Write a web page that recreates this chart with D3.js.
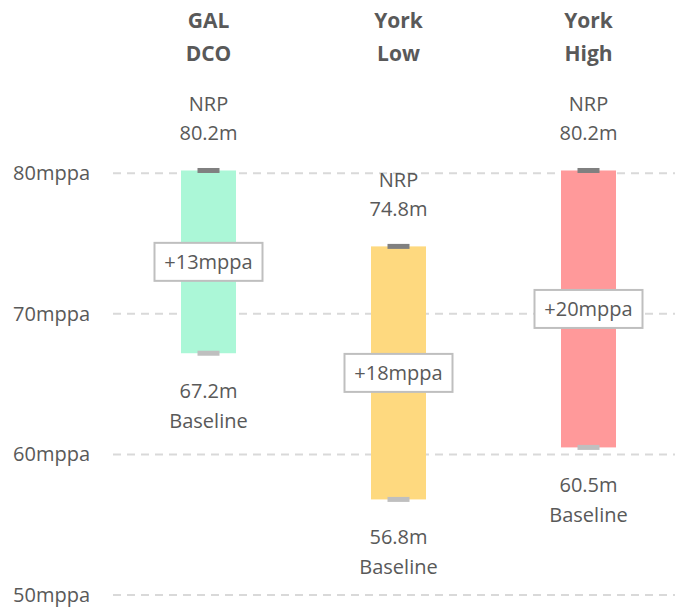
<!DOCTYPE html>
<html>
<head>
<meta charset="utf-8">
<script src="https://cdn.jsdelivr.net/npm/d3@7"></script>
<style>
  html, body { margin: 0; padding: 0; background: #fff; }
  svg { display: block; font-family: "Open Sans", "DejaVu Sans", sans-serif; }
</style>
</head>
<body>
<svg id="chart" width="675" height="610"></svg>
<script>
// ---- data ----
const categories = ["GAL DCO", "York Low", "York High"];
const titleLines = [["GAL", "DCO"], ["York", "Low"], ["York", "High"]];
const baselineValues = [67.2, 56.8, 60.5];
const nrpValues = [80.2, 74.8, 80.2];
const changeLabels = ["+13mppa", "+18mppa", "+20mppa"];
const barColors = ["#abf7d7", "#fed97f", "#ff999a"];
const yTicks = [50, 60, 70, 80];
const yTickLabels = ["50mppa", "60mppa", "70mppa", "80mppa"];

// ---- layout ----
const svg = d3.select("#chart");
const textColor = "#595959";

const y = d3.scaleLinear().domain([50, 80]).range([595, 173.3]);
const x = d3.scalePoint().domain(categories).range([208.5, 588.5]);
const barW = 55;

// gridlines
svg.append("g").selectAll("line")
  .data(yTicks)
  .join("line")
  .attr("x1", 113).attr("x2", 675)
  .attr("y1", d => y(d)).attr("y2", d => y(d))
  .attr("stroke", "#d9d9d9")
  .attr("stroke-width", 2)
  .attr("stroke-dasharray", "8,6");

// y labels
svg.append("g").selectAll("text")
  .data(yTicks)
  .join("text")
  .attr("x", 90)
  .attr("y", d => y(d))
  .attr("dy", "0.35em")
  .attr("text-anchor", "end")
  .attr("font-size", 20)
  .attr("fill", textColor)
  .text((d, i) => yTickLabels[i]);

const rows = categories.map((c, i) => ({
  cat: c, lines: titleLines[i], base: baselineValues[i], nrp: nrpValues[i],
  label: changeLabels[i], color: barColors[i]
}));

// bars
svg.append("g").selectAll("rect")
  .data(rows)
  .join("rect")
  .attr("x", d => x(d.cat) - barW / 2)
  .attr("width", barW)
  .attr("y", d => y(d.nrp))
  .attr("height", d => y(d.base) - y(d.nrp))
  .attr("fill", d => d.color);

// caps
const capW = 22, capH = 5;
svg.append("g").selectAll("rect")
  .data(rows)
  .join("rect")
  .attr("x", d => x(d.cat) - capW / 2)
  .attr("width", capW)
  .attr("y", d => y(d.nrp) - capH / 2)
  .attr("height", capH)
  .attr("fill", "#808080");
svg.append("g").selectAll("rect")
  .data(rows)
  .join("rect")
  .attr("x", d => x(d.cat) - capW / 2)
  .attr("width", capW)
  .attr("y", d => y(d.base) - capH / 2)
  .attr("height", capH)
  .attr("fill", "#bfbfbf");

// titles
const titles = svg.append("g").selectAll("g").data(rows).join("g");
titles.each(function(d) {
  d3.select(this).selectAll("text")
    .data(d.lines)
    .join("text")
    .attr("x", x(d.cat))
    .attr("y", (t, j) => 21 + j * 33)
    .attr("dy", "0.35em")
    .attr("text-anchor", "middle")
    .attr("font-size", 21)
    .attr("font-weight", "bold")
    .attr("fill", textColor)
    .text(t => t);
});

// NRP labels
const nrpG = svg.append("g").selectAll("g").data(rows).join("g");
nrpG.append("text")
  .attr("x", d => x(d.cat)).attr("y", d => y(d.nrp) - 66)
  .attr("dy", "0.35em").attr("text-anchor", "middle")
  .attr("font-size", 20).attr("fill", textColor)
  .text("NRP");
nrpG.append("text")
  .attr("x", d => x(d.cat)).attr("y", d => y(d.nrp) - 37)
  .attr("dy", "0.35em").attr("text-anchor", "middle")
  .attr("font-size", 20).attr("fill", textColor)
  .text(d => d.nrp.toFixed(1) + "m");

// Baseline labels
const baseG = svg.append("g").selectAll("g").data(rows).join("g");
baseG.append("text")
  .attr("x", d => x(d.cat)).attr("y", d => y(d.base) + 38)
  .attr("dy", "0.35em").attr("text-anchor", "middle")
  .attr("font-size", 20).attr("fill", textColor)
  .text(d => d.base.toFixed(1) + "m");
baseG.append("text")
  .attr("x", d => x(d.cat)).attr("y", d => y(d.base) + 68)
  .attr("dy", "0.35em").attr("text-anchor", "middle")
  .attr("font-size", 20).attr("fill", textColor)
  .text("Baseline");

// change boxes
const boxW = 108, boxH = 38;
const boxG = svg.append("g").selectAll("g").data(rows).join("g");
boxG.append("rect")
  .attr("x", d => x(d.cat) - boxW / 2)
  .attr("y", d => y((d.nrp + d.base) / 2) - boxH / 2)
  .attr("width", boxW).attr("height", boxH)
  .attr("fill", "#fff")
  .attr("stroke", "#bfbfbf")
  .attr("stroke-width", 2);
boxG.append("text")
  .attr("x", d => x(d.cat))
  .attr("y", d => y((d.nrp + d.base) / 2))
  .attr("dy", "0.35em").attr("text-anchor", "middle")
  .attr("font-size", 20).attr("fill", textColor)
  .text(d => d.label);
</script>
</body>
</html>
